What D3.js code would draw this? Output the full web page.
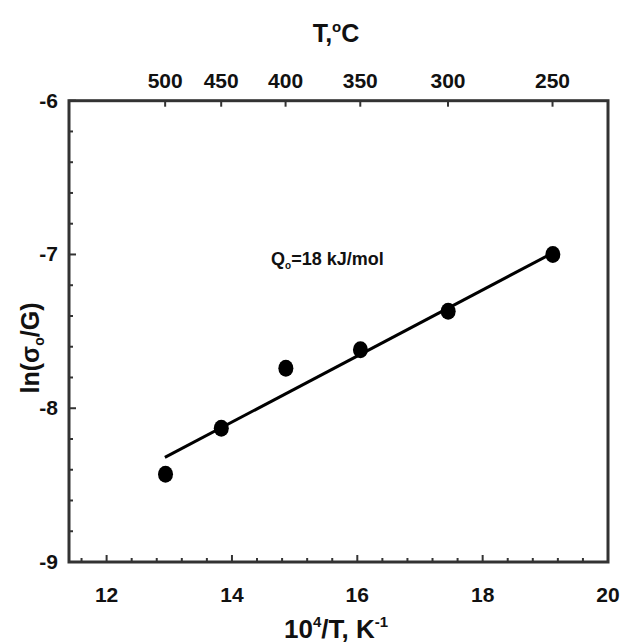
<!DOCTYPE html>
<html>
<head>
<meta charset="utf-8">
<script src="https://cdn.jsdelivr.net/npm/d3@7"></script>
<style>
  html, body { margin: 0; padding: 0; background: #fff; }
  svg { display: block; }
  text { font-family: "Liberation Sans", Arial, Helvetica, sans-serif; font-weight: bold; fill: #111; }
</style>
</head>
<body>
<svg id="chart" width="621" height="644"></svg>
<script>
// Measured points: inverse temperature (10^4/T, K^-1) and ln(sigma_o/G)
const invT = [12.94, 13.83, 14.86, 16.05, 17.45, 19.12];
const lnSigma = [-8.43, -8.13, -7.74, -7.62, -7.37, -7.00];

// Arrhenius fit line endpoints
const fitX = [12.93, 19.12];
const fitY = [-8.32, -6.99];

// Bottom axis ticks
const xMajorTicks = [12, 14, 16, 18, 20];
const xMinorTicks = [11.6, 12.4, 12.8, 13.2, 13.6, 14.4, 14.8, 15.2, 15.6, 16.4, 16.8, 17.2, 17.6, 18.4, 18.8, 19.2, 19.6];
// Left axis ticks
const yMajorTicks = [-6, -7, -8, -9];
const yMinorTicks = [-6.2, -6.4, -6.6, -6.8, -7.2, -7.4, -7.6, -7.8, -8.2, -8.4, -8.6, -8.8];
// Top axis: temperature in degrees C
const tempC = [500, 450, 400, 350, 300, 250];

const svg = d3.select("#chart");
const plotL = 69, plotR = 608, plotT = 100.7, plotB = 562;

const x = d3.scaleLinear().domain([11.4, 20]).range([plotL, plotR]);
const y = d3.scaleLinear().domain([-9, -6]).range([plotB, plotT]);
const tempToInv = t => 1e4 / (t + 273.15);

const axisColor = "#333";

// frame
svg.append("rect")
  .attr("x", plotL).attr("y", plotT)
  .attr("width", plotR - plotL).attr("height", plotB - plotT)
  .attr("fill", "none").attr("stroke", axisColor).attr("stroke-width", 3);

// bottom axis ticks (inward)
const g = svg.append("g").attr("stroke", axisColor).attr("stroke-width", 2);
g.selectAll("line.xmaj").data(xMajorTicks.filter(v => v < 20)).join("line")
  .attr("class", "xmaj")
  .attr("x1", d => x(d)).attr("x2", d => x(d))
  .attr("y1", plotB).attr("y2", plotB - 7);
g.selectAll("line.xmin").data(xMinorTicks).join("line")
  .attr("class", "xmin")
  .attr("x1", d => x(d)).attr("x2", d => x(d))
  .attr("y1", plotB).attr("y2", plotB - 4);

// left axis ticks (inward)
g.selectAll("line.ymaj").data(yMajorTicks).join("line")
  .attr("class", "ymaj")
  .attr("x1", plotL).attr("x2", plotL + 7)
  .attr("y1", d => y(d)).attr("y2", d => y(d));
g.selectAll("line.ymin").data(yMinorTicks).join("line")
  .attr("class", "ymin")
  .attr("x1", plotL).attr("x2", plotL + 4)
  .attr("y1", d => y(d)).attr("y2", d => y(d));

// top axis ticks (inward)
g.selectAll("line.tmaj").data(tempC).join("line")
  .attr("class", "tmaj")
  .attr("x1", d => x(tempToInv(d))).attr("x2", d => x(tempToInv(d)))
  .attr("y1", plotT).attr("y2", plotT + 6);

// tick labels
svg.append("g").selectAll("text").data(xMajorTicks).join("text")
  .attr("x", d => x(d)).attr("y", 602)
  .attr("text-anchor", "middle").attr("font-size", 21)
  .text(d => d);

svg.append("g").selectAll("text").data(yMajorTicks).join("text")
  .attr("x", 58).attr("y", d => y(d) + 7)
  .attr("text-anchor", "end").attr("font-size", 21)
  .text(d => d);

svg.append("g").selectAll("text").data(tempC).join("text")
  .attr("x", d => x(tempToInv(d))).attr("y", 88)
  .attr("text-anchor", "middle").attr("font-size", 21)
  .text(d => d);

// top axis title: T, °C
const tt = svg.append("text").attr("x", 336).attr("y", 42)
  .attr("text-anchor", "middle").attr("font-size", 25);
tt.append("tspan").text("T,");
tt.append("tspan").attr("font-size", 15).attr("dy", -10).text("o");
tt.append("tspan").attr("dy", 10).text("C");

// bottom axis title: 10^4/T, K^-1
const xt = svg.append("text").attr("x", 336).attr("y", 638)
  .attr("text-anchor", "middle").attr("font-size", 26);
xt.append("tspan").text("10");
xt.append("tspan").attr("font-size", 15).attr("dy", -11).text("4");
xt.append("tspan").attr("dy", 11).text("/T, K");
xt.append("tspan").attr("font-size", 15).attr("dy", -11).text("-1");

// left axis title: ln(sigma_o/G)
const yt = svg.append("text")
  .attr("transform", "translate(39,348) rotate(-90)")
  .attr("text-anchor", "middle").attr("font-size", 25);
yt.append("tspan").text("ln(σ");
yt.append("tspan").attr("font-size", 14).attr("dy", 5).text("o");
yt.append("tspan").attr("dy", -5).text("/G)");

// activation energy annotation
const qt = svg.append("text").attr("x", 271).attr("y", 265).attr("font-size", 18);
qt.append("tspan").text("Q");
qt.append("tspan").attr("font-size", 10).attr("dy", 4).text("o");
qt.append("tspan").attr("dy", -4).text("=18 kJ/mol");

// fit line
svg.append("line")
  .attr("x1", x(fitX[0])).attr("y1", y(fitY[0]))
  .attr("x2", x(fitX[1])).attr("y2", y(fitY[1]))
  .attr("stroke", "#000").attr("stroke-width", 3);

// data markers
svg.append("g").selectAll("ellipse").data(invT.map((v, i) => [v, lnSigma[i]])).join("ellipse")
  .attr("cx", d => x(d[0])).attr("cy", d => y(d[1]))
  .attr("rx", 7.5).attr("ry", 8.5)
  .attr("fill", "#000");
</script>
</body>
</html>
